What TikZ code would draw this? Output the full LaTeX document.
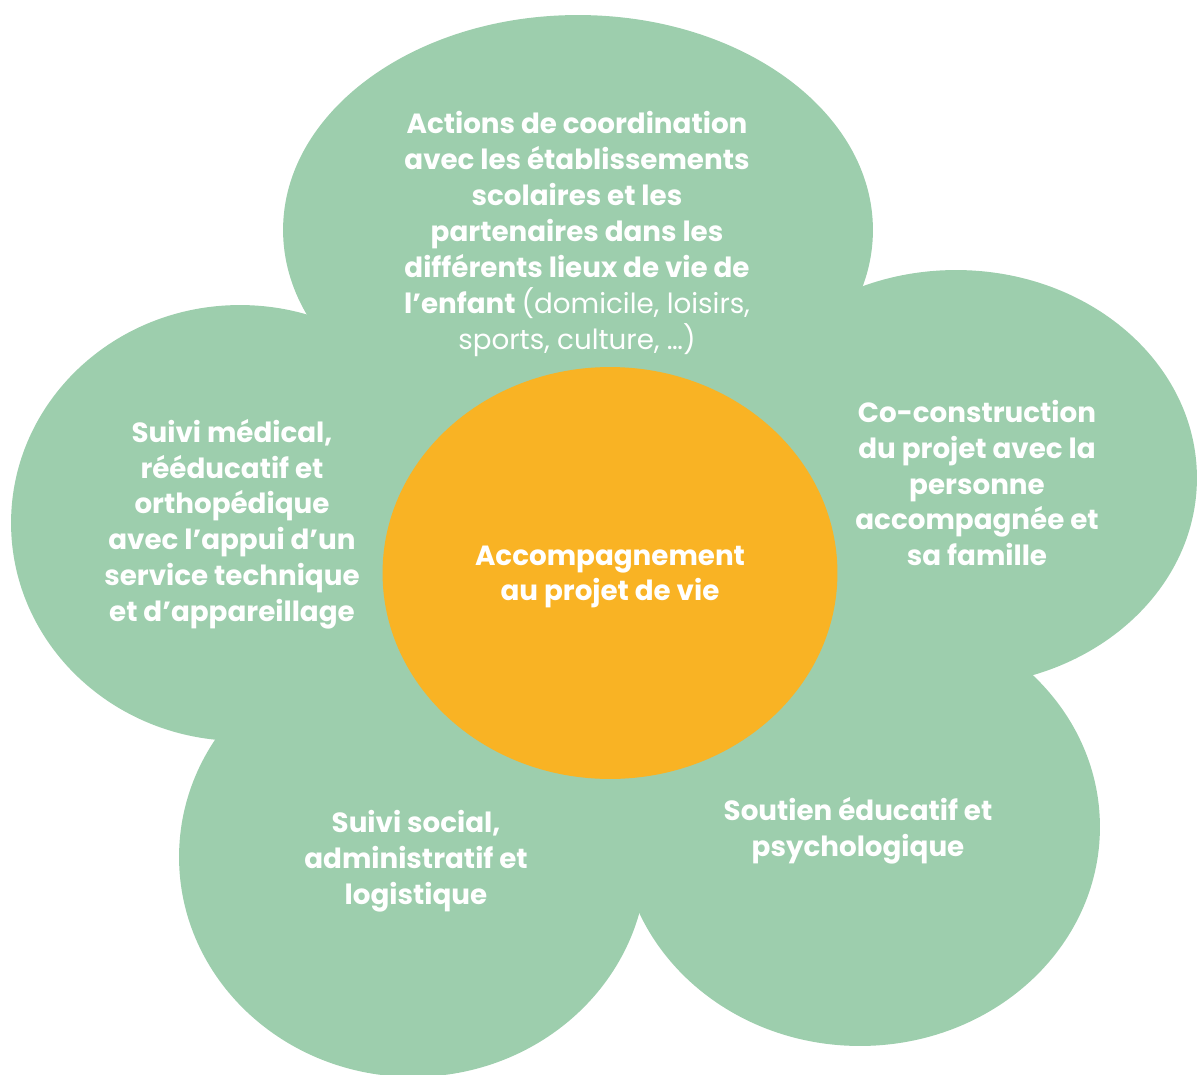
\documentclass[tikz,border=0pt]{standalone}
\usepackage{fontspec}
\setmainfont{Poppins}
\usetikzlibrary{shapes.geometric}
\definecolor{vert}{HTML}{9DCEAD}
\definecolor{jaune}{HTML}{F9B324}
\tikzset{
  petale/.style={ellipse,fill=vert,inner sep=0pt},
  texte/.style={text=white,align=center,font=\bfseries\fontsize{15.8}{20.4}\selectfont}
}
\begin{document}
\begin{tikzpicture}[x=0.02cm,y=-0.02cm]
\useasboundingbox (0,0) rectangle (1197,1075);
% petales
\node[petale,minimum width=11.8cm,minimum height=8.6cm] (haut) at (578,230) {};
\node[petale,minimum width=9.64cm,minimum height=8.32cm] (droite) at (956,478) {};
\node[petale,minimum width=9.6cm,minimum height=8.76cm] (basdroite) at (860,827) {};
\node[petale,minimum width=9.36cm,minimum height=8.8cm] (basgauche) at (413,857) {};
\node[petale,minimum width=9.16cm,minimum height=8.72cm] (gauche) at (240,523) {};
\node[petale,minimum width=10.4cm,minimum height=9.6cm] (fond) at (610,573) {};
% coeur
\node[ellipse,fill=jaune,inner sep=0pt,minimum width=9.1cm,minimum height=8.24cm] (coeur) at (610,573) {};
% textes
\node[texte] (actions) at (577,234) {Actions de coordination\\avec les établissements\\scolaires et les\\partenaires dans les\\différents lieux de vie de\\l’enfant {\mdseries (domicile, loisirs,}\\{\mdseries sports, culture, …)}};
\node[texte] (coconstr) at (977,483) {Co-construction\\du projet avec la\\personne\\accompagnée et\\sa famille};
\node[texte] (soutien) at (858,831) {Soutien éducatif et\\psychologique};
\node[texte] (social) at (416,861) {Suivi social,\\administratif et\\logistique};
\node[texte] (medical) at (232,524) {Suivi médical,\\rééducatif et\\orthopédique\\avec l’appui d’un\\service technique\\et d’appareillage};
\node[texte] (projet) at ([yshift=-0.08cm]coeur.center) {Accompagnement\\au projet de vie};
\end{tikzpicture}
\end{document}
